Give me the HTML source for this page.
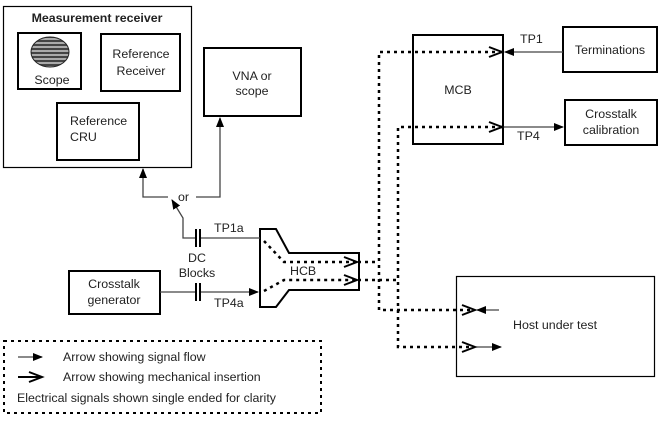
<!DOCTYPE html>
<html><head><meta charset="utf-8"><style>
html,body{margin:0;padding:0;background:#fff}
text{font-family:"Liberation Sans",Arial,sans-serif;font-size:12.4px;fill:#222}
</style></head><body>
<svg width="663" height="417" viewBox="0 0 663 417" xmlns="http://www.w3.org/2000/svg">
<defs>
<marker id="f" markerWidth="10" markerHeight="10" refX="9" refY="5" orient="auto" markerUnits="userSpaceOnUse"><path d="M0,1 L10,5 L0,9 z" fill="#000"/></marker>
<pattern id="st" width="4" height="4" patternUnits="userSpaceOnUse"><rect width="4" height="2" fill="#444"/><rect y="2" width="4" height="2" fill="#aaa"/></pattern>
</defs>
<g fill="none" stroke="#000">
<rect x="3.5" y="6.5" width="188" height="161" stroke-width="1.2"/>
<rect x="18" y="33" width="63" height="56" stroke-width="2"/>
<rect x="101" y="34" width="79" height="57" stroke-width="2"/>
<rect x="57" y="103" width="82" height="57" stroke-width="2"/>
<rect x="204" y="48" width="97" height="68" stroke-width="2"/>
<rect x="413" y="35" width="90" height="109" stroke-width="2"/>
<rect x="563" y="27" width="94" height="45" stroke-width="2"/>
<rect x="565" y="100" width="92" height="45" stroke-width="2"/>
<rect x="69" y="271" width="91" height="43" stroke-width="2"/>
<rect x="456.5" y="276.5" width="198" height="100" stroke-width="1.2"/>
<rect x="4" y="341" width="317" height="72" stroke-width="2" stroke-dasharray="3,4"/>
<path d="M260,229 H276 L289,253 H359 V290 H289 L276,307 H260 Z" stroke-width="2"/>
</g>
<ellipse cx="50" cy="52" rx="19" ry="15" fill="url(#st)" stroke="#222"/>
<g stroke="#444" stroke-width="1.3" fill="none">
<path d="M168,197 H143 V169" marker-end="url(#f)"/>
<path d="M196,197 H220 V118" marker-end="url(#f)"/>
<path d="M196,238 H183 V218 L172,200" marker-end="url(#f)"/>
<path d="M200,238 H260"/>
<path d="M160,292 H196 M200,292 H258" marker-end="url(#f)"/>
<path d="M563,52 H505" marker-end="url(#f)"/>
<path d="M503,127 H563" marker-end="url(#f)"/>
<path d="M499,310 H477" marker-end="url(#f)"/>
<path d="M476,347 H501" marker-end="url(#f)"/>
<path d="M18,357 H42" marker-end="url(#f)"/>
</g>
<g stroke="#000" stroke-width="2">
<path d="M196,229 V247 M200,229 V247 M196,283 V301 M200,283 V301"/>
</g>
<g stroke="#000" stroke-width="2.5" fill="none" stroke-dasharray="3,4">
<path d="M264,241 L284,262 H358 M264,291 L284,280 H358"/>
<path d="M358,262 H379 M358,280 H398"/>
<path d="M502,52 H379 V310 H474 M502,127 H398 V347 H474"/>
</g>
<g stroke="#000" stroke-width="2" fill="none">
<path d="M344,257 L357,262 L344,267 M344,275 L357,280 L344,285"/>
<path d="M489,47 L502,52 L489,57 M489,122 L502,127 L489,132"/>
<path d="M462,305 L475,310 L462,315 M462,342 L475,347 L462,352"/>
<path d="M18,377 H41 M29,372 L42,377 L29,382"/>
</g>
<text x="97" y="22" text-anchor="middle" font-weight="bold">Measurement receiver</text>
<text x="52" y="84" text-anchor="middle">Scope</text>
<text x="141" y="58" text-anchor="middle">Reference</text>
<text x="141" y="75" text-anchor="middle">Receiver</text>
<text x="70" y="125">Reference</text>
<text x="70" y="141">CRU</text>
<text x="252" y="80" text-anchor="middle">VNA or</text>
<text x="252" y="95" text-anchor="middle">scope</text>
<text x="178" y="201">or</text>
<text x="214" y="232">TP1a</text>
<text x="197" y="262" text-anchor="middle">DC</text>
<text x="197" y="277" text-anchor="middle">Blocks</text>
<text x="214" y="307">TP4a</text>
<text x="114" y="288" text-anchor="middle">Crosstalk</text>
<text x="114" y="304" text-anchor="middle">generator</text>
<text x="290" y="275">HCB</text>
<text x="458" y="94" text-anchor="middle">MCB</text>
<text x="520" y="43">TP1</text>
<text x="610" y="54" text-anchor="middle">Terminations</text>
<text x="611" y="118" text-anchor="middle">Crosstalk</text>
<text x="611" y="134" text-anchor="middle">calibration</text>
<text x="517" y="140">TP4</text>
<text x="513" y="329">Host under test</text>
<text x="63" y="361">Arrow showing signal flow</text>
<text x="63" y="381">Arrow showing mechanical insertion</text>
<text x="17" y="402">Electrical signals shown single ended for clarity</text>
</svg>
</body></html>
